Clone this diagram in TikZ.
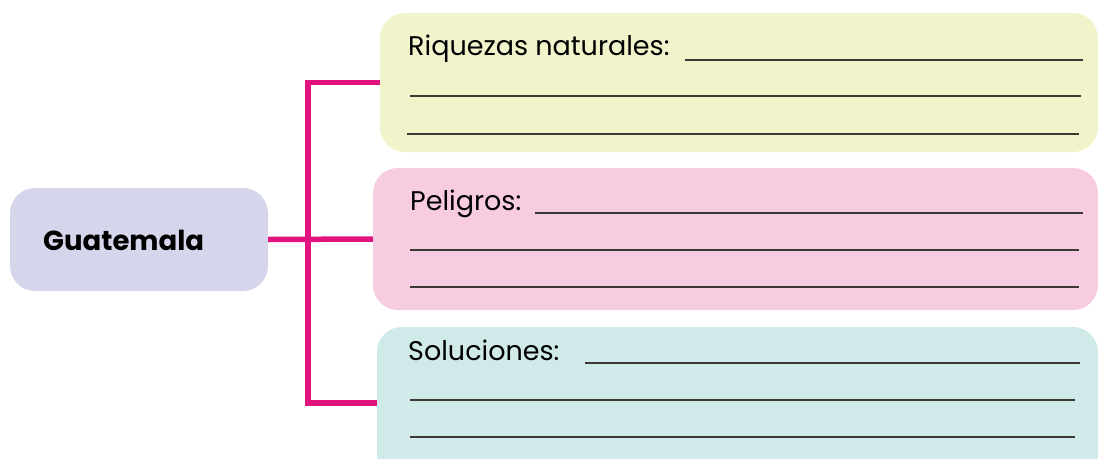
\documentclass[tikz,border=0pt]{standalone}
\usepackage{fontspec}
\setmainfont{Poppins}
\usepackage{tikz}

\definecolor{lavbox}{HTML}{D5D6EB}
\definecolor{yelbox}{HTML}{F1F4CB}
\definecolor{pinkbox}{HTML}{F7CBE0}
\definecolor{tealbox}{HTML}{D0E9E9}
\definecolor{magline}{HTML}{E0137F}
\definecolor{inkline}{HTML}{3A3A33}

\tikzset{
  box/.style={rounded corners=25pt, inner sep=0pt},
  link/.style={magline, line width=5.5pt},
  writeline/.style={inkline, line width=1.8pt},
  lbl/.style={anchor=base west, inner sep=0pt, font=\fontsize{27}{30}\selectfont}
}

\begin{document}
\begin{tikzpicture}[x=1pt,y=-1pt]

\useasboundingbox (0,0) rectangle (1098,458);
\clip (0,0) rectangle (1098,458);

\node [box, fill=lavbox, minimum width=258pt, minimum height=103pt] (guate) at (139,239.5) {};
\node [anchor=west, inner sep=0pt, font=\fontsize{27.5}{30}\selectfont\bfseries] (guatelbl) at (43,240) {Guatemala};

\node [box, fill=yelbox, minimum width=718pt, minimum height=139pt] (riq) at (739,82.5) {};
\node [box, fill=pinkbox, minimum width=725pt, minimum height=142pt] (pel) at (735.5,239) {};
\node [box, fill=tealbox, minimum width=721pt, minimum height=152pt] (sol) at (737.5,403) {};

% ramas
\coordinate (fork) at (308,239);
\draw[link] (guate.east) -- (pel.west);
\draw[link] (riq.west) -| (fork) |- (sol.west);

% riquezas
\node [lbl] (riqlbl) at (408,55) {Riquezas naturales:};
\draw[writeline] (685,60) to (1083,60);
\draw[writeline] (410,96) to (1081,96);
\draw[writeline] (407,134) to (1079,134);

% peligros
\node [lbl] (pellbl) at (410,210) {Peligros:};
\draw[writeline] (535,213) to (1083,213);
\draw[writeline] (410,250) to (1079,250);
\draw[writeline] (410,287) to (1079,287);

% soluciones
\node [lbl] (sollbl) at (408,360) {Soluciones:};
\draw[writeline] (585,363) to (1080,363);
\draw[writeline] (410,400) to (1075,400);
\draw[writeline] (410,437) to (1075,437);

\end{tikzpicture}
\end{document}
